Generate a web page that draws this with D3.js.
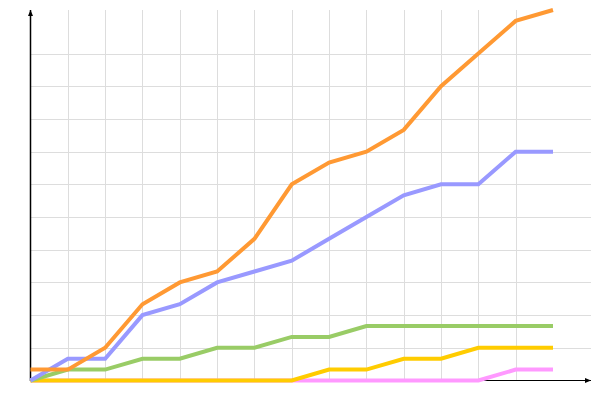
<!DOCTYPE html>
<html><head><meta charset="utf-8">
<script src="https://cdn.jsdelivr.net/npm/d3@7"></script>
<style>html,body{margin:0;padding:0;background:#fff;}</style>
</head><body>
<script>
const steps = d3.range(15);
const orange = [1,1,3,7,9,10,13,18,20,21,23,27,30,33,34];
const blue   = [0,2,2,6,7,9,10,11,13,15,17,18,18,21,21];
const green  = [0,1,1,2,2,3,3,4,4,5,5,5,5,5,5];
const yellow = [0,0,0,0,0,0,0,0,1,1,2,2,3,3,3];
const pink   = [0,0,0,0,0,0,0,0,0,0,0,0,0,1,1];
const yGrid = [3,6,9,12,15,18,21,24,27,30];
const xGrid = d3.range(1,14);

const series = [
  {name:"pink", values:pink, color:"#ff99ff"},
  {name:"yellow", values:yellow, color:"#ffcc00"},
  {name:"green", values:green, color:"#99cc66"},
  {name:"blue", values:blue, color:"#9999ff"},
  {name:"orange", values:orange, color:"#ff9933"}
];

const W=600,H=400;
const svg=d3.select("body").append("svg").attr("width",W).attr("height",H);
const x=d3.scaleLinear().domain([0,14]).range([30.5,553]);
const y=d3.scaleLinear().domain([0,34]).range([380.5,10]);

const g=svg.append("g");
g.selectAll(".hg").data(yGrid).join("line")
  .attr("x1",30).attr("x2",591).attr("y1",d=>Math.round(y(d))+0.5).attr("y2",d=>Math.round(y(d))+0.5)
  .attr("stroke","#dddddd").attr("stroke-width",1);
g.selectAll(".vg").data(xGrid).join("line")
  .attr("x1",d=>Math.round(x(d))+0.5).attr("x2",d=>Math.round(x(d))+0.5).attr("y1",10).attr("y2",381)
  .attr("stroke","#dddddd").attr("stroke-width",1);

// axes (beneath the lines)
svg.append("line").attr("x1",30.5).attr("x2",30.5).attr("y1",10).attr("y2",381).attr("stroke","#000").attr("stroke-width",1.5);
svg.append("line").attr("x1",30).attr("x2",591).attr("y1",380.5).attr("y2",380.5).attr("stroke","#000").attr("stroke-width",1);
svg.append("path").attr("d","M30.5,10 L33,16 L28,16 Z").attr("fill","#000");
svg.append("path").attr("d","M591,380.5 L585,378 L585,383 Z").attr("fill","#000");

const line=d3.line().x((d,i)=>x(i)).y(d=>y(d));
series.forEach(s=>{
  svg.append("path").datum(s.values).attr("d",line)
    .attr("fill","none").attr("stroke",s.color).attr("stroke-width",4)
    .attr("stroke-linejoin","miter").attr("stroke-linecap","butt");
});
</script>
</body></html>
